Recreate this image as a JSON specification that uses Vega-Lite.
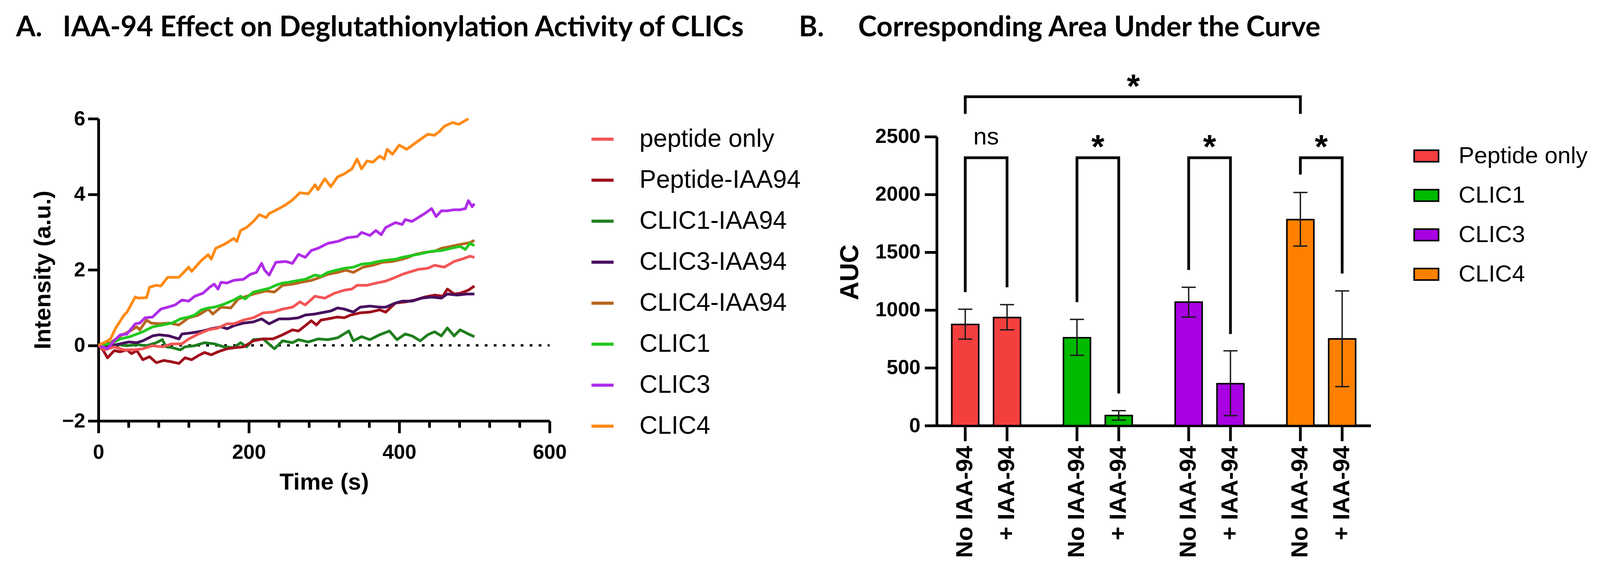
{
"$schema": "https://vega.github.io/schema/vega-lite/v6.json",
"background": "white",
"padding": {"left": 41, "top": 34, "right": 5, "bottom": 5},
"spacing": -5,
"bounds": "full",
"align": "none",
"config": {
 "view": {"stroke": null},
 "font": "Liberation Sans",
 "axis": {"grid": false, "domainColor": "black", "tickColor": "black", "labelColor": "black", "titleColor": "black", "labelFont": "Liberation Sans", "titleFont": "Liberation Sans", "labelFontWeight": "bold", "titleFontWeight": "bold", "labelFontSize": 52, "titleFontSize": 60, "domainWidth": 7, "tickWidth": 7, "labelFlush": false, "labelOverlap": false, "format": "d"},
 "legend": {"labelFont": "Liberation Sans", "labelColor": "black", "padding": 0, "labelLimit": 0},
 "title": {"font": "Lato", "fontWeight": "bold", "fontSize": 72, "color": "black", "anchor": "start", "frame": "group", "baseline": "alphabetic"}
},
"resolve": {"scale": {"color": "independent", "x": "independent", "y": "independent"}, "legend": {"color": "independent"}},
"datasets": {
 "traces": [
{"s":"CLIC1-IAA94","t":0,"v":0},{"s":"CLIC1-IAA94","t":12,"v":-0.04},{"s":"CLIC1-IAA94","t":25,"v":0.02},{"s":"CLIC1-IAA94","t":38,"v":-0.01},{"s":"CLIC1-IAA94","t":51,"v":0.02},{"s":"CLIC1-IAA94","t":64,"v":-0.01},{"s":"CLIC1-IAA94","t":77,"v":0.07},{"s":"CLIC1-IAA94","t":85,"v":0.15},{"s":"CLIC1-IAA94","t":90,"v":-0.04},{"s":"CLIC1-IAA94","t":98,"v":-0.06},{"s":"CLIC1-IAA94","t":109,"v":-0.12},{"s":"CLIC1-IAA94","t":115,"v":-0.04},{"s":"CLIC1-IAA94","t":128,"v":-0.01},{"s":"CLIC1-IAA94","t":141,"v":0.07},{"s":"CLIC1-IAA94","t":154,"v":0.04},{"s":"CLIC1-IAA94","t":167,"v":-0.04},{"s":"CLIC1-IAA94","t":180,"v":-0.06},{"s":"CLIC1-IAA94","t":189,"v":0.07},{"s":"CLIC1-IAA94","t":197,"v":-0.04},{"s":"CLIC1-IAA94","t":206,"v":0.15},{"s":"CLIC1-IAA94","t":219,"v":0.17},{"s":"CLIC1-IAA94","t":234,"v":-0.09},{"s":"CLIC1-IAA94","t":245,"v":0.12},{"s":"CLIC1-IAA94","t":258,"v":0.07},{"s":"CLIC1-IAA94","t":266,"v":0.15},{"s":"CLIC1-IAA94","t":279,"v":0.09},{"s":"CLIC1-IAA94","t":292,"v":0.17},{"s":"CLIC1-IAA94","t":305,"v":0.15},{"s":"CLIC1-IAA94","t":318,"v":0.2},{"s":"CLIC1-IAA94","t":333,"v":0.38},{"s":"CLIC1-IAA94","t":339,"v":0.12},{"s":"CLIC1-IAA94","t":350,"v":0.23},{"s":"CLIC1-IAA94","t":361,"v":0.15},{"s":"CLIC1-IAA94","t":374,"v":0.28},{"s":"CLIC1-IAA94","t":387,"v":0.38},{"s":"CLIC1-IAA94","t":397,"v":0.15},{"s":"CLIC1-IAA94","t":408,"v":0.3},{"s":"CLIC1-IAA94","t":417,"v":0.25},{"s":"CLIC1-IAA94","t":428,"v":0.12},{"s":"CLIC1-IAA94","t":438,"v":0.28},{"s":"CLIC1-IAA94","t":447,"v":0.36},{"s":"CLIC1-IAA94","t":456,"v":0.25},{"s":"CLIC1-IAA94","t":464,"v":0.46},{"s":"CLIC1-IAA94","t":473,"v":0.25},{"s":"CLIC1-IAA94","t":481,"v":0.41},{"s":"CLIC1-IAA94","t":492,"v":0.3},{"s":"CLIC1-IAA94","t":500,"v":0.23},
{"s":"Peptide-IAA94","t":0,"v":0},{"s":"Peptide-IAA94","t":6,"v":-0.12},{"s":"Peptide-IAA94","t":12,"v":-0.33},{"s":"Peptide-IAA94","t":21,"v":-0.14},{"s":"Peptide-IAA94","t":29,"v":-0.17},{"s":"Peptide-IAA94","t":38,"v":-0.12},{"s":"Peptide-IAA94","t":44,"v":-0.22},{"s":"Peptide-IAA94","t":51,"v":-0.14},{"s":"Peptide-IAA94","t":59,"v":-0.38},{"s":"Peptide-IAA94","t":68,"v":-0.3},{"s":"Peptide-IAA94","t":77,"v":-0.46},{"s":"Peptide-IAA94","t":87,"v":-0.4},{"s":"Peptide-IAA94","t":96,"v":-0.43},{"s":"Peptide-IAA94","t":107,"v":-0.48},{"s":"Peptide-IAA94","t":115,"v":-0.33},{"s":"Peptide-IAA94","t":124,"v":-0.38},{"s":"Peptide-IAA94","t":133,"v":-0.27},{"s":"Peptide-IAA94","t":141,"v":-0.19},{"s":"Peptide-IAA94","t":150,"v":-0.25},{"s":"Peptide-IAA94","t":159,"v":-0.17},{"s":"Peptide-IAA94","t":171,"v":-0.09},{"s":"Peptide-IAA94","t":182,"v":-0.06},{"s":"Peptide-IAA94","t":193,"v":-0.04},{"s":"Peptide-IAA94","t":206,"v":0.12},{"s":"Peptide-IAA94","t":219,"v":0.17},{"s":"Peptide-IAA94","t":232,"v":0.17},{"s":"Peptide-IAA94","t":245,"v":0.28},{"s":"Peptide-IAA94","t":258,"v":0.41},{"s":"Peptide-IAA94","t":266,"v":0.38},{"s":"Peptide-IAA94","t":275,"v":0.52},{"s":"Peptide-IAA94","t":283,"v":0.65},{"s":"Peptide-IAA94","t":290,"v":0.54},{"s":"Peptide-IAA94","t":296,"v":0.67},{"s":"Peptide-IAA94","t":305,"v":0.7},{"s":"Peptide-IAA94","t":318,"v":0.75},{"s":"Peptide-IAA94","t":327,"v":0.73},{"s":"Peptide-IAA94","t":335,"v":0.8},{"s":"Peptide-IAA94","t":348,"v":0.86},{"s":"Peptide-IAA94","t":361,"v":0.88},{"s":"Peptide-IAA94","t":374,"v":0.94},{"s":"Peptide-IAA94","t":382,"v":0.88},{"s":"Peptide-IAA94","t":395,"v":1.12},{"s":"Peptide-IAA94","t":408,"v":1.15},{"s":"Peptide-IAA94","t":421,"v":1.2},{"s":"Peptide-IAA94","t":434,"v":1.28},{"s":"Peptide-IAA94","t":447,"v":1.33},{"s":"Peptide-IAA94","t":458,"v":1.3},{"s":"Peptide-IAA94","t":464,"v":1.49},{"s":"Peptide-IAA94","t":473,"v":1.36},{"s":"Peptide-IAA94","t":481,"v":1.38},{"s":"Peptide-IAA94","t":492,"v":1.46},{"s":"Peptide-IAA94","t":500,"v":1.57},
{"s":"CLIC3-IAA94","t":0,"v":0},{"s":"CLIC3-IAA94","t":16,"v":-0.01},{"s":"CLIC3-IAA94","t":29,"v":0.04},{"s":"CLIC3-IAA94","t":40,"v":0.09},{"s":"CLIC3-IAA94","t":51,"v":0.07},{"s":"CLIC3-IAA94","t":59,"v":0.12},{"s":"CLIC3-IAA94","t":72,"v":0.25},{"s":"CLIC3-IAA94","t":81,"v":0.28},{"s":"CLIC3-IAA94","t":94,"v":0.25},{"s":"CLIC3-IAA94","t":107,"v":0.17},{"s":"CLIC3-IAA94","t":111,"v":0.3},{"s":"CLIC3-IAA94","t":124,"v":0.33},{"s":"CLIC3-IAA94","t":139,"v":0.38},{"s":"CLIC3-IAA94","t":150,"v":0.44},{"s":"CLIC3-IAA94","t":163,"v":0.49},{"s":"CLIC3-IAA94","t":171,"v":0.44},{"s":"CLIC3-IAA94","t":180,"v":0.52},{"s":"CLIC3-IAA94","t":193,"v":0.59},{"s":"CLIC3-IAA94","t":206,"v":0.62},{"s":"CLIC3-IAA94","t":217,"v":0.7},{"s":"CLIC3-IAA94","t":227,"v":0.57},{"s":"CLIC3-IAA94","t":240,"v":0.7},{"s":"CLIC3-IAA94","t":253,"v":0.7},{"s":"CLIC3-IAA94","t":266,"v":0.73},{"s":"CLIC3-IAA94","t":275,"v":0.8},{"s":"CLIC3-IAA94","t":288,"v":0.83},{"s":"CLIC3-IAA94","t":296,"v":0.86},{"s":"CLIC3-IAA94","t":309,"v":0.91},{"s":"CLIC3-IAA94","t":318,"v":0.99},{"s":"CLIC3-IAA94","t":327,"v":0.96},{"s":"CLIC3-IAA94","t":339,"v":0.88},{"s":"CLIC3-IAA94","t":348,"v":1.01},{"s":"CLIC3-IAA94","t":361,"v":1.04},{"s":"CLIC3-IAA94","t":374,"v":1.01},{"s":"CLIC3-IAA94","t":382,"v":1.01},{"s":"CLIC3-IAA94","t":395,"v":1.12},{"s":"CLIC3-IAA94","t":404,"v":1.17},{"s":"CLIC3-IAA94","t":417,"v":1.17},{"s":"CLIC3-IAA94","t":430,"v":1.25},{"s":"CLIC3-IAA94","t":443,"v":1.28},{"s":"CLIC3-IAA94","t":456,"v":1.25},{"s":"CLIC3-IAA94","t":464,"v":1.36},{"s":"CLIC3-IAA94","t":477,"v":1.33},{"s":"CLIC3-IAA94","t":490,"v":1.36},{"s":"CLIC3-IAA94","t":500,"v":1.36},
{"s":"peptide only","t":0,"v":0},{"s":"peptide only","t":8,"v":-0.12},{"s":"peptide only","t":21,"v":-0.04},{"s":"peptide only","t":34,"v":-0.12},{"s":"peptide only","t":47,"v":-0.12},{"s":"peptide only","t":59,"v":-0.09},{"s":"peptide only","t":72,"v":-0.01},{"s":"peptide only","t":85,"v":-0.04},{"s":"peptide only","t":98,"v":0.04},{"s":"peptide only","t":111,"v":0.04},{"s":"peptide only","t":120,"v":0.17},{"s":"peptide only","t":133,"v":0.3},{"s":"peptide only","t":146,"v":0.41},{"s":"peptide only","t":159,"v":0.46},{"s":"peptide only","t":171,"v":0.57},{"s":"peptide only","t":180,"v":0.57},{"s":"peptide only","t":193,"v":0.67},{"s":"peptide only","t":206,"v":0.73},{"s":"peptide only","t":219,"v":0.86},{"s":"peptide only","t":232,"v":0.88},{"s":"peptide only","t":245,"v":0.96},{"s":"peptide only","t":258,"v":1.01},{"s":"peptide only","t":268,"v":1.15},{"s":"peptide only","t":275,"v":1.07},{"s":"peptide only","t":288,"v":1.3},{"s":"peptide only","t":301,"v":1.25},{"s":"peptide only","t":314,"v":1.38},{"s":"peptide only","t":327,"v":1.46},{"s":"peptide only","t":337,"v":1.49},{"s":"peptide only","t":344,"v":1.59},{"s":"peptide only","t":357,"v":1.59},{"s":"peptide only","t":370,"v":1.65},{"s":"peptide only","t":382,"v":1.7},{"s":"peptide only","t":395,"v":1.8},{"s":"peptide only","t":404,"v":1.88},{"s":"peptide only","t":412,"v":1.93},{"s":"peptide only","t":425,"v":2.01},{"s":"peptide only","t":438,"v":2.04},{"s":"peptide only","t":447,"v":2.12},{"s":"peptide only","t":460,"v":2.07},{"s":"peptide only","t":473,"v":2.22},{"s":"peptide only","t":486,"v":2.3},{"s":"peptide only","t":494,"v":2.36},{"s":"peptide only","t":500,"v":2.33},
{"s":"CLIC4-IAA94","t":0,"v":0},{"s":"CLIC4-IAA94","t":16,"v":0.07},{"s":"CLIC4-IAA94","t":29,"v":0.25},{"s":"CLIC4-IAA94","t":42,"v":0.38},{"s":"CLIC4-IAA94","t":51,"v":0.49},{"s":"CLIC4-IAA94","t":55,"v":0.41},{"s":"CLIC4-IAA94","t":64,"v":0.67},{"s":"CLIC4-IAA94","t":70,"v":0.59},{"s":"CLIC4-IAA94","t":81,"v":0.57},{"s":"CLIC4-IAA94","t":94,"v":0.59},{"s":"CLIC4-IAA94","t":107,"v":0.54},{"s":"CLIC4-IAA94","t":120,"v":0.73},{"s":"CLIC4-IAA94","t":133,"v":0.8},{"s":"CLIC4-IAA94","t":146,"v":0.96},{"s":"CLIC4-IAA94","t":152,"v":0.83},{"s":"CLIC4-IAA94","t":163,"v":1.01},{"s":"CLIC4-IAA94","t":176,"v":0.99},{"s":"CLIC4-IAA94","t":186,"v":1.23},{"s":"CLIC4-IAA94","t":197,"v":1.3},{"s":"CLIC4-IAA94","t":210,"v":1.38},{"s":"CLIC4-IAA94","t":223,"v":1.44},{"s":"CLIC4-IAA94","t":234,"v":1.41},{"s":"CLIC4-IAA94","t":245,"v":1.59},{"s":"CLIC4-IAA94","t":258,"v":1.62},{"s":"CLIC4-IAA94","t":270,"v":1.67},{"s":"CLIC4-IAA94","t":283,"v":1.72},{"s":"CLIC4-IAA94","t":292,"v":1.78},{"s":"CLIC4-IAA94","t":305,"v":1.88},{"s":"CLIC4-IAA94","t":318,"v":1.93},{"s":"CLIC4-IAA94","t":329,"v":1.99},{"s":"CLIC4-IAA94","t":339,"v":1.93},{"s":"CLIC4-IAA94","t":352,"v":2.07},{"s":"CLIC4-IAA94","t":365,"v":2.12},{"s":"CLIC4-IAA94","t":378,"v":2.2},{"s":"CLIC4-IAA94","t":391,"v":2.22},{"s":"CLIC4-IAA94","t":404,"v":2.28},{"s":"CLIC4-IAA94","t":412,"v":2.33},{"s":"CLIC4-IAA94","t":421,"v":2.41},{"s":"CLIC4-IAA94","t":434,"v":2.46},{"s":"CLIC4-IAA94","t":447,"v":2.49},{"s":"CLIC4-IAA94","t":456,"v":2.57},{"s":"CLIC4-IAA94","t":469,"v":2.62},{"s":"CLIC4-IAA94","t":481,"v":2.67},{"s":"CLIC4-IAA94","t":494,"v":2.72},{"s":"CLIC4-IAA94","t":500,"v":2.78},
{"s":"CLIC1","t":0,"v":0},{"s":"CLIC1","t":16,"v":0.04},{"s":"CLIC1","t":29,"v":0.17},{"s":"CLIC1","t":42,"v":0.23},{"s":"CLIC1","t":59,"v":0.36},{"s":"CLIC1","t":72,"v":0.49},{"s":"CLIC1","t":85,"v":0.54},{"s":"CLIC1","t":98,"v":0.59},{"s":"CLIC1","t":109,"v":0.7},{"s":"CLIC1","t":120,"v":0.75},{"s":"CLIC1","t":128,"v":0.8},{"s":"CLIC1","t":137,"v":0.94},{"s":"CLIC1","t":146,"v":0.99},{"s":"CLIC1","t":154,"v":1.01},{"s":"CLIC1","t":167,"v":1.09},{"s":"CLIC1","t":180,"v":1.2},{"s":"CLIC1","t":189,"v":1.3},{"s":"CLIC1","t":195,"v":1.23},{"s":"CLIC1","t":206,"v":1.41},{"s":"CLIC1","t":217,"v":1.46},{"s":"CLIC1","t":227,"v":1.51},{"s":"CLIC1","t":236,"v":1.59},{"s":"CLIC1","t":245,"v":1.65},{"s":"CLIC1","t":253,"v":1.67},{"s":"CLIC1","t":266,"v":1.72},{"s":"CLIC1","t":275,"v":1.75},{"s":"CLIC1","t":288,"v":1.86},{"s":"CLIC1","t":296,"v":1.83},{"s":"CLIC1","t":305,"v":1.93},{"s":"CLIC1","t":316,"v":1.99},{"s":"CLIC1","t":327,"v":2.04},{"s":"CLIC1","t":339,"v":2.07},{"s":"CLIC1","t":350,"v":2.15},{"s":"CLIC1","t":361,"v":2.17},{"s":"CLIC1","t":372,"v":2.22},{"s":"CLIC1","t":382,"v":2.25},{"s":"CLIC1","t":395,"v":2.28},{"s":"CLIC1","t":404,"v":2.33},{"s":"CLIC1","t":417,"v":2.38},{"s":"CLIC1","t":430,"v":2.43},{"s":"CLIC1","t":443,"v":2.49},{"s":"CLIC1","t":456,"v":2.51},{"s":"CLIC1","t":469,"v":2.57},{"s":"CLIC1","t":481,"v":2.62},{"s":"CLIC1","t":488,"v":2.54},{"s":"CLIC1","t":494,"v":2.7},{"s":"CLIC1","t":500,"v":2.64},
{"s":"CLIC3","t":0,"v":0},{"s":"CLIC3","t":12,"v":-0.09},{"s":"CLIC3","t":21,"v":0.12},{"s":"CLIC3","t":29,"v":0.28},{"s":"CLIC3","t":38,"v":0.3},{"s":"CLIC3","t":49,"v":0.57},{"s":"CLIC3","t":55,"v":0.59},{"s":"CLIC3","t":62,"v":0.73},{"s":"CLIC3","t":72,"v":0.75},{"s":"CLIC3","t":83,"v":0.96},{"s":"CLIC3","t":92,"v":1.01},{"s":"CLIC3","t":102,"v":1.07},{"s":"CLIC3","t":111,"v":1.2},{"s":"CLIC3","t":120,"v":1.17},{"s":"CLIC3","t":128,"v":1.3},{"s":"CLIC3","t":139,"v":1.38},{"s":"CLIC3","t":148,"v":1.54},{"s":"CLIC3","t":154,"v":1.62},{"s":"CLIC3","t":159,"v":1.49},{"s":"CLIC3","t":163,"v":1.67},{"s":"CLIC3","t":171,"v":1.65},{"s":"CLIC3","t":180,"v":1.72},{"s":"CLIC3","t":193,"v":1.75},{"s":"CLIC3","t":202,"v":1.88},{"s":"CLIC3","t":210,"v":1.93},{"s":"CLIC3","t":217,"v":2.17},{"s":"CLIC3","t":221,"v":1.99},{"s":"CLIC3","t":227,"v":1.86},{"s":"CLIC3","t":236,"v":2.2},{"s":"CLIC3","t":249,"v":2.22},{"s":"CLIC3","t":258,"v":2.17},{"s":"CLIC3","t":266,"v":2.41},{"s":"CLIC3","t":275,"v":2.33},{"s":"CLIC3","t":283,"v":2.51},{"s":"CLIC3","t":292,"v":2.57},{"s":"CLIC3","t":305,"v":2.7},{"s":"CLIC3","t":318,"v":2.75},{"s":"CLIC3","t":331,"v":2.85},{"s":"CLIC3","t":344,"v":2.88},{"s":"CLIC3","t":350,"v":2.99},{"s":"CLIC3","t":361,"v":2.91},{"s":"CLIC3","t":369,"v":3.04},{"s":"CLIC3","t":376,"v":2.93},{"s":"CLIC3","t":382,"v":3.12},{"s":"CLIC3","t":395,"v":3.25},{"s":"CLIC3","t":404,"v":3.2},{"s":"CLIC3","t":408,"v":3.33},{"s":"CLIC3","t":417,"v":3.28},{"s":"CLIC3","t":425,"v":3.38},{"s":"CLIC3","t":434,"v":3.49},{"s":"CLIC3","t":443,"v":3.62},{"s":"CLIC3","t":449,"v":3.41},{"s":"CLIC3","t":456,"v":3.56},{"s":"CLIC3","t":464,"v":3.56},{"s":"CLIC3","t":473,"v":3.59},{"s":"CLIC3","t":481,"v":3.59},{"s":"CLIC3","t":488,"v":3.62},{"s":"CLIC3","t":492,"v":3.83},{"s":"CLIC3","t":497,"v":3.67},{"s":"CLIC3","t":500,"v":3.75},
{"s":"CLIC4","t":0,"v":0},{"s":"CLIC4","t":10,"v":0.1},{"s":"CLIC4","t":16,"v":0.17},{"s":"CLIC4","t":23,"v":0.46},{"s":"CLIC4","t":34,"v":0.8},{"s":"CLIC4","t":38,"v":0.88},{"s":"CLIC4","t":49,"v":1.28},{"s":"CLIC4","t":53,"v":1.25},{"s":"CLIC4","t":64,"v":1.26},{"s":"CLIC4","t":68,"v":1.54},{"s":"CLIC4","t":77,"v":1.59},{"s":"CLIC4","t":83,"v":1.57},{"s":"CLIC4","t":92,"v":1.8},{"s":"CLIC4","t":107,"v":1.8},{"s":"CLIC4","t":120,"v":2.07},{"s":"CLIC4","t":124,"v":1.96},{"s":"CLIC4","t":137,"v":2.25},{"s":"CLIC4","t":146,"v":2.4},{"s":"CLIC4","t":150,"v":2.28},{"s":"CLIC4","t":156,"v":2.57},{"s":"CLIC4","t":167,"v":2.67},{"s":"CLIC4","t":180,"v":2.83},{"s":"CLIC4","t":184,"v":2.75},{"s":"CLIC4","t":189,"v":3.04},{"s":"CLIC4","t":197,"v":3.12},{"s":"CLIC4","t":206,"v":3.28},{"s":"CLIC4","t":214,"v":3.46},{"s":"CLIC4","t":223,"v":3.38},{"s":"CLIC4","t":227,"v":3.49},{"s":"CLIC4","t":240,"v":3.62},{"s":"CLIC4","t":249,"v":3.72},{"s":"CLIC4","t":258,"v":3.85},{"s":"CLIC4","t":268,"v":4.04},{"s":"CLIC4","t":279,"v":4.01},{"s":"CLIC4","t":288,"v":4.25},{"s":"CLIC4","t":292,"v":4.12},{"s":"CLIC4","t":301,"v":4.41},{"s":"CLIC4","t":309,"v":4.2},{"s":"CLIC4","t":318,"v":4.46},{"s":"CLIC4","t":327,"v":4.54},{"s":"CLIC4","t":337,"v":4.67},{"s":"CLIC4","t":344,"v":4.93},{"s":"CLIC4","t":350,"v":4.67},{"s":"CLIC4","t":357,"v":4.88},{"s":"CLIC4","t":365,"v":4.85},{"s":"CLIC4","t":374,"v":5.01},{"s":"CLIC4","t":380,"v":4.93},{"s":"CLIC4","t":384,"v":5.19},{"s":"CLIC4","t":391,"v":5.06},{"s":"CLIC4","t":400,"v":5.3},{"s":"CLIC4","t":410,"v":5.19},{"s":"CLIC4","t":421,"v":5.35},{"s":"CLIC4","t":438,"v":5.59},{"s":"CLIC4","t":447,"v":5.56},{"s":"CLIC4","t":454,"v":5.67},{"s":"CLIC4","t":460,"v":5.8},{"s":"CLIC4","t":471,"v":5.9},{"s":"CLIC4","t":479,"v":5.85},{"s":"CLIC4","t":486,"v":5.93},{"s":"CLIC4","t":492,"v":6.0}
 ],
 "bars": [
  {"group":"Peptide only","treat":"No IAA-94","mean":875,"lo":748,"hi":1007},
  {"group":"Peptide only","treat":"+ IAA-94","mean":935,"lo":828,"hi":1046},
  {"group":"CLIC1","treat":"No IAA-94","mean":760,"lo":608,"hi":919},
  {"group":"CLIC1","treat":"+ IAA-94","mean":87,"lo":47,"hi":129},
  {"group":"CLIC3","treat":"No IAA-94","mean":1068,"lo":938,"hi":1197},
  {"group":"CLIC3","treat":"+ IAA-94","mean":362,"lo":86,"hi":647},
  {"group":"CLIC4","treat":"No IAA-94","mean":1782,"lo":1553,"hi":2017},
  {"group":"CLIC4","treat":"+ IAA-94","mean":750,"lo":337,"hi":1165}
 ],
 "brackets": [
  {"b":"top","k":1,"group":"Peptide only","treat":"No IAA-94","y":2696},
  {"b":"top","k":2,"group":"Peptide only","treat":"No IAA-94","y":2845},
  {"b":"top","k":3,"group":"CLIC4","treat":"No IAA-94","y":2845},
  {"b":"top","k":4,"group":"CLIC4","treat":"No IAA-94","y":2696},
  {"b":"p1","k":1,"group":"Peptide only","treat":"No IAA-94","y":1154},
  {"b":"p1","k":2,"group":"Peptide only","treat":"No IAA-94","y":2317},
  {"b":"p1","k":3,"group":"Peptide only","treat":"+ IAA-94","y":2317},
  {"b":"p1","k":4,"group":"Peptide only","treat":"+ IAA-94","y":1197},
  {"b":"p2","k":1,"group":"CLIC1","treat":"No IAA-94","y":1068},
  {"b":"p2","k":2,"group":"CLIC1","treat":"No IAA-94","y":2317},
  {"b":"p2","k":3,"group":"CLIC1","treat":"+ IAA-94","y":2317},
  {"b":"p2","k":4,"group":"CLIC1","treat":"+ IAA-94","y":278},
  {"b":"p3","k":1,"group":"CLIC3","treat":"No IAA-94","y":1346},
  {"b":"p3","k":2,"group":"CLIC3","treat":"No IAA-94","y":2317},
  {"b":"p3","k":3,"group":"CLIC3","treat":"+ IAA-94","y":2317},
  {"b":"p3","k":4,"group":"CLIC3","treat":"+ IAA-94","y":792},
  {"b":"p4","k":1,"group":"CLIC4","treat":"No IAA-94","y":2172},
  {"b":"p4","k":2,"group":"CLIC4","treat":"No IAA-94","y":2317},
  {"b":"p4","k":3,"group":"CLIC4","treat":"+ IAA-94","y":2317},
  {"b":"p4","k":4,"group":"CLIC4","treat":"+ IAA-94","y":1316}
 ]
},
"hconcat": [
 {
  "width": 1155, "height": 774,
  "title": {"text": "A.\u00a0\u00a0\u00a0IAA-94 Effect on Deglutathionylation Activity of CLICs", "dx": -211, "offset": 170},
  "layer": [
   {"data": {"values": [{}]}, "mark": {"type": "rule", "color": "black", "strokeWidth": 6, "strokeDash": [7, 16]},
    "encoding": {"x": {"datum": 0, "type": "quantitative"}, "x2": {"datum": 600}, "y": {"datum": 0, "type": "quantitative"}}},
   {"data": {"name": "traces"}, "mark": {"type": "line", "strokeWidth": 7, "strokeJoin": "round"},
    "encoding": {
     "x": {"field": "t", "type": "quantitative", "scale": {"domain": [0, 600], "nice": false, "zero": false},
       "axis": {"title": "Time (s)", "values": [0,20,40,60,80,100,120,140,160,180,200,220,240,260,280,300,320,340,360,380,400,420,440,460,480,500,520,540,560,580,600],
         "labelExpr": "datum.value % 200 === 0 ? datum.label : ''",
         "tickSize": {"condition": {"test": "datum.value % 200 === 0", "value": 31}, "value": 17},
         "labelPadding": 24, "titlePadding": 22}},
     "y": {"field": "v", "type": "quantitative", "scale": {"domain": [-2, 6], "nice": false},
       "axis": {"title": "Intensity (a.u.)", "values": [-2, 0, 2, 4, 6], "tickSize": 27, "labelPadding": 7, "titlePadding": 17}},
     "color": {"field": "s", "type": "nominal",
       "scale": {"domain": ["peptide only", "Peptide-IAA94", "CLIC1-IAA94", "CLIC3-IAA94", "CLIC4-IAA94", "CLIC1", "CLIC3", "CLIC4"],
                 "range": ["#F25656", "#A0101C", "#1F7F1F", "#47105E", "#B8651E", "#22C81E", "#B02CE8", "#FF8A14"]},
       "legend": {"orient": "none", "legendX": 1258, "legendY": 20, "title": null, "symbolType": "M-1,0H1", "symbolSize": 3200, "symbolStrokeWidth": 8, "labelFontSize": 64, "labelOffset": 62, "rowPadding": 40}}
    }}
  ]
 },
 {
  "width": 1111, "height": 786,
  "title": {"text": "B.\u00a0\u00a0\u00a0\u00a0\u00a0Corresponding Area Under the Curve", "dx": -353, "offset": 73},
  "layer": [
   {"data": {"name": "bars"}, "mark": {"type": "bar", "stroke": "black", "strokeWidth": 4},
    "encoding": {
     "x": {"field": "group", "type": "nominal", "scale": {"domain": ["Peptide only", "CLIC1", "CLIC3", "CLIC4"], "paddingInner": 0.2, "paddingOuter": 0.0425},
       "axis": {"title": null, "labels": false, "ticks": false, "domain": true}},
     "xOffset": {"field": "treat", "type": "nominal", "scale": {"domain": ["No IAA-94", "+ IAA-94"], "paddingInner": 0.355, "paddingOuter": 0.2467}},
     "y": {"field": "mean", "type": "quantitative", "scale": {"domain": [0, 2655], "nice": false},
       "axis": {"title": "AUC", "titleFontSize": 66, "values": [0, 500, 1000, 1500, 2000, 2500], "tickSize": 31, "labelPadding": 11, "titlePadding": 30, "domainDash": [740, 2000]}},
     "color": {"field": "group", "type": "nominal",
       "scale": {"domain": ["Peptide only", "CLIC1", "CLIC3", "CLIC4"], "range": ["#F43F3F", "#00BA00", "#A800E2", "#FF8000"]},
       "legend": {"orient": "none", "legendX": 1220, "legendY": 62, "title": null, "symbolType": "M-1,-0.47H1V0.47H-1Z", "symbolSize": 3900, "symbolStrokeColor": "black", "symbolStrokeWidth": 4, "symbolOpacity": 1, "labelFontSize": 60, "labelOffset": 49, "rowPadding": 37}}
    }},
   {"data": {"name": "bars"}, "mark": {"type": "rule", "color": "#1a1a1a", "strokeWidth": 3.5},
    "encoding": {"x": {"field": "group", "type": "nominal"}, "xOffset": {"field": "treat", "type": "nominal"},
     "y": {"field": "lo", "type": "quantitative", "title": "AUC"}, "y2": {"field": "hi"}}},
   {"data": {"name": "bars"}, "mark": {"type": "tick", "orient": "horizontal", "color": "#1a1a1a", "size": 36, "thickness": 3.5, "opacity": 1},
    "encoding": {"x": {"field": "group", "type": "nominal"}, "xOffset": {"field": "treat", "type": "nominal"},
     "y": {"field": "hi", "type": "quantitative", "title": "AUC"}}},
   {"data": {"name": "bars"}, "mark": {"type": "tick", "orient": "horizontal", "color": "#1a1a1a", "size": 36, "thickness": 3.5, "opacity": 1},
    "encoding": {"x": {"field": "group", "type": "nominal"}, "xOffset": {"field": "treat", "type": "nominal"},
     "y": {"field": "lo", "type": "quantitative", "title": "AUC"}}},
   {"data": {"name": "bars"}, "mark": {"type": "rule", "color": "black", "strokeWidth": 7},
    "encoding": {"x": {"field": "group", "type": "nominal"}, "xOffset": {"field": "treat", "type": "nominal"},
     "y": {"datum": 0, "type": "quantitative"}, "y2": {"datum": -135}}},
   {"data": {"name": "bars"}, "mark": {"type": "text", "angle": 270, "align": "right", "baseline": "middle", "dx": -52, "font": "Liberation Sans", "fontSize": 60, "fontWeight": "bold", "color": "black"},
    "encoding": {"x": {"field": "group", "type": "nominal"}, "xOffset": {"field": "treat", "type": "nominal"},
     "y": {"datum": 0, "type": "quantitative"}, "text": {"field": "treat"}}},
   {"data": {"name": "brackets"}, "mark": {"type": "line", "color": "black", "strokeWidth": 7, "strokeJoin": "miter"},
    "encoding": {"x": {"field": "group", "type": "nominal"}, "xOffset": {"field": "treat", "type": "nominal"},
     "y": {"field": "y", "type": "quantitative", "title": "AUC"}, "detail": {"field": "b"}, "order": {"field": "k", "type": "quantitative"}}},
   {"data": {"values": [{"group": "Peptide only", "y": 2496, "label": "ns"}]},
    "mark": {"type": "text", "font": "Liberation Sans", "fontSize": 62, "color": "black", "baseline": "middle"},
    "encoding": {"x": {"field": "group", "type": "nominal"}, "y": {"field": "y", "type": "quantitative", "title": "AUC"}, "text": {"field": "label"}}},
   {"data": {"values": [{"group": "CLIC1", "y": 2481, "label": "*"}, {"group": "CLIC3", "y": 2481, "label": "*"}, {"group": "CLIC4", "y": 2481, "label": "*"}]},
    "mark": {"type": "text", "font": "Liberation Sans", "fontSize": 86, "fontWeight": "bold", "color": "black", "baseline": "middle", "dy": 23},
    "encoding": {"x": {"field": "group", "type": "nominal"}, "y": {"field": "y", "type": "quantitative", "title": "AUC"}, "text": {"field": "label"}}},
   {"data": {"values": [{"group": "CLIC1", "y": 3003, "label": "*"}]},
    "mark": {"type": "text", "font": "Liberation Sans", "fontSize": 86, "fontWeight": "bold", "color": "black", "baseline": "middle", "dy": 23, "dx": 91},
    "encoding": {"x": {"field": "group", "type": "nominal"}, "y": {"field": "y", "type": "quantitative", "title": "AUC"}, "text": {"field": "label"}}}
  ]
 }
]
}
